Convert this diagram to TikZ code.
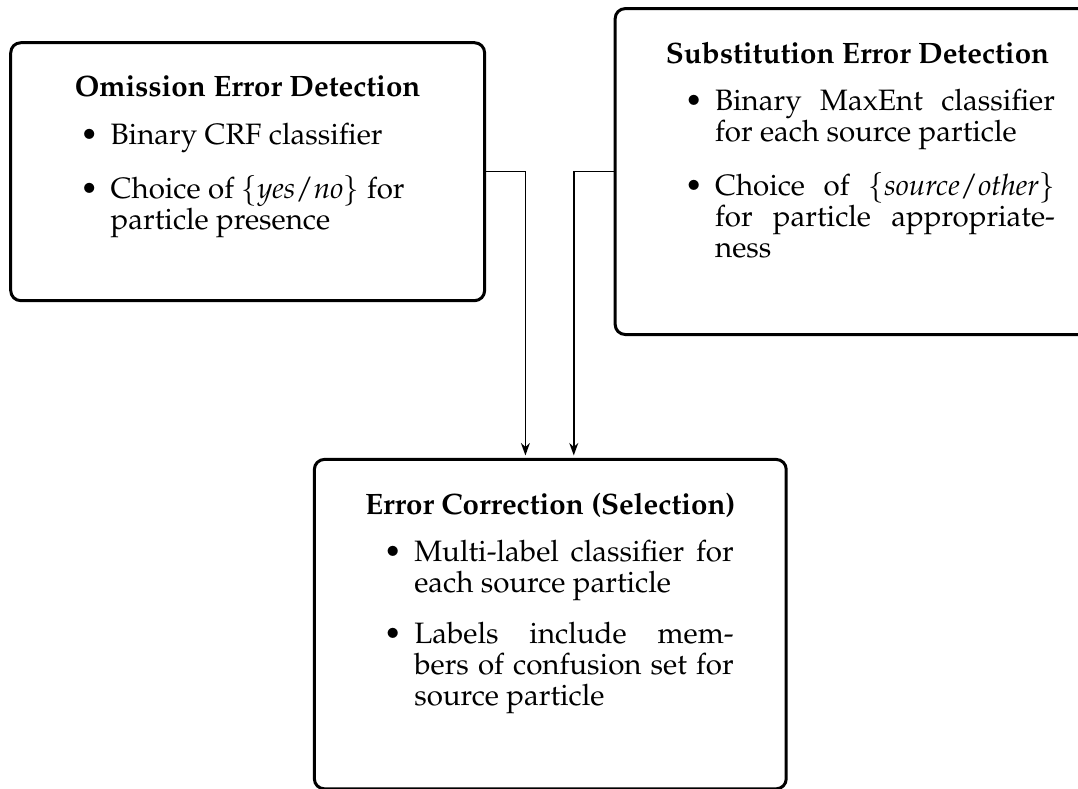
\documentclass[tikz,border=0pt]{standalone}
\usepackage[T1]{fontenc}
\usepackage{mathpazo}
\usepackage{tikz}
\usetikzlibrary{arrows.meta, positioning}
\setlength{\leftmargini}{30pt}
% #1 height, #2 cut on the right of the list, #3 title, #4 items
\newcommand{\stagetext}[4]{%
  \begin{minipage}[t][#1][t]{\linewidth}
    {\centering\textbf{#3}\par}\kern-3.4pt
    \addtolength{\linewidth}{-#2}%
    \begin{itemize}#4\end{itemize}
  \end{minipage}}

\begin{document}
\begin{tikzpicture}[
    stage/.style={draw, line width=1.2pt, rounded corners=4pt, anchor=north west, align=justify,
                  inner xsep=10pt, inner ysep=13.4pt, font=\fontsize{11.8pt}{12.4pt}\selectfont},
    flow/.style={-{Stealth[length=5pt, width=3.6pt]}, line width=.6pt, shorten >=1pt}]
  \useasboundingbox (0,0) rectangle (15.16,-11.09);
  \node[stage, text width=169.6pt] (omit) at (0.13,-0.58) {\stagetext{76.4pt}{22pt}{Omission Error Detection}{
      \item Binary CRF classifier
      \item Choice of $\{\textit{yes}/\textit{no}\}$ for particle presence}};
  \node[stage, text width=174pt] (subst) at (8.63,-0.10) {\stagetext{103.6pt}{8pt}{Substitution Error Detection}{
      \item Binary MaxEnt classifier for each source particle
      \item Choice of $\{\textit{source}/\textit{other}\}$ for particle appropriateness}};
  \node[stage, text width=168.8pt] (corr) at (4.40,-6.44) {\stagetext{105pt}{11pt}{Error Correction (Selection)}{
      \item Multi-label classifier for each source particle
      \item Labels include mem-\linebreak bers of confusion set for source particle}};
  \draw[flow] (omit.east) -| ([xshift=-.35cm]corr.north);
  \draw[flow] (subst.west) -| ([xshift=.33cm]corr.north);
\end{tikzpicture}
\end{document}
